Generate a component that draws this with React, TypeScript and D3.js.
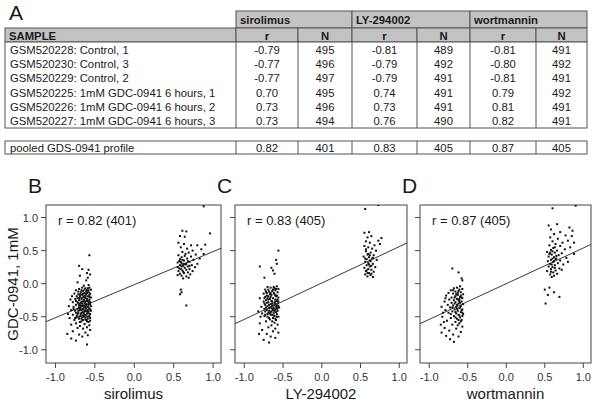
import React from "react";
import * as d3 from "d3";

const samples = [
  "GSM520228: Control, 1",
  "GSM520230: Control, 3",
  "GSM520229: Control, 2",
  "GSM520225: 1mM GDC-0941 6 hours, 1",
  "GSM520226: 1mM GDC-0941 6 hours, 2",
  "GSM520227: 1mM GDC-0941 6 hours, 3",
];
const drugs = ["sirolimus", "LY-294002", "wortmannin"];
const sirolimusR = ["-0.79", "-0.77", "-0.77", "0.70", "0.73", "0.73"];
const sirolimusN = ["495", "496", "497", "495", "496", "494"];
const lyR = ["-0.81", "-0.79", "-0.79", "0.74", "0.73", "0.76"];
const lyN = ["489", "492", "491", "491", "491", "490"];
const wortR = ["-0.81", "-0.80", "-0.81", "0.79", "0.81", "0.82"];
const wortN = ["491", "492", "491", "492", "491", "491"];
const pooledLabel = "pooled GDS-0941 profile";
const pooledR = ["0.82", "0.83", "0.87"];
const pooledN = ["401", "405", "405"];

const xTicks = [-1.0, -0.5, 0.0, 0.5, 1.0];
const yTicks = [1.0, 0.5, 0.0, -0.5, -1.0];
const slopes = [0.5, 0.55, 0.54];
const intercepts = [-0.015, 0.01, 0.0];
const panelLetters = ["B", "C", "D"];

const pointsB = `-0.57 0.43,-0.70 0.27,-0.66 0.22,-0.58 0.21,-0.60 0.16,-0.56 0.14,-0.69 0.12,-0.59 0.09,-0.61 0.05,-0.72 0.02,-0.64 -0.03,-0.58 -0.02,-0.66 -0.06,-0.62 -0.07,-0.57 -0.06,-0.70 -0.08,-0.74 -0.10,-0.60 -0.10,-0.55 -0.09,-0.65 -0.11,-0.68 -0.13,-0.63 -0.14,-0.58 -0.13,-0.76 -0.15,-0.71 -0.16,-0.61 -0.16,-0.56 -0.15,-0.66 -0.17,-0.79 -0.19,-0.73 -0.19,-0.69 -0.20,-0.64 -0.20,-0.59 -0.19,-0.55 -0.21,-0.62 -0.22,-0.67 -0.23,-0.75 -0.23,-0.81 -0.24,-0.70 -0.25,-0.57 -0.24,-0.60 -0.26,-0.65 -0.27,-0.72 -0.28,-0.78 -0.28,-0.68 -0.29,-0.58 -0.29,-0.63 -0.30,-0.56 -0.31,-0.74 -0.32,-0.70 -0.33,-0.66 -0.33,-0.61 -0.33,-0.83 -0.34,-0.77 -0.35,-0.59 -0.35,-0.64 -0.36,-0.69 -0.37,-0.72 -0.38,-0.57 -0.38,-0.62 -0.39,-0.80 -0.40,-0.67 -0.40,-0.75 -0.41,-0.60 -0.42,-0.55 -0.41,-0.65 -0.43,-0.71 -0.44,-0.58 -0.45,-0.68 -0.46,-0.84 -0.46,-0.78 -0.47,-0.63 -0.47,-0.73 -0.49,-0.59 -0.50,-0.66 -0.51,-0.82 -0.52,-0.56 -0.52,-0.70 -0.53,-0.62 -0.54,-0.76 -0.55,-0.67 -0.57,-0.58 -0.58,-0.74 -0.60,-0.63 -0.61,-0.80 -0.62,-0.57 -0.63,-0.69 -0.64,-0.60 -0.66,-0.72 -0.67,-0.65 -0.68,-0.56 -0.70,-0.78 -0.72,-0.62 -0.74,-0.85 -0.76,-0.70 -0.77,-0.59 -0.78,-0.80 -0.83,-0.74 -0.86,-0.66 -0.80,-0.60 -0.92,-0.61 -0.12,-0.64 -0.24,-0.57 -0.27,-0.69 -0.31,-0.62 -0.35,-0.66 -0.38,-0.59 -0.40,-0.71 -0.41,-0.64 -0.45,-0.56 -0.46,-0.61 -0.48,-0.68 -0.49,-0.73 -0.51,-0.65 -0.55,-0.60 -0.57,-0.58 -0.10,-0.63 -0.18,-0.68 -0.16,-0.72 -0.22,-0.60 -0.23,-0.56 -0.28,-0.67 -0.34,-0.63 -0.42,-0.74 -0.44,-0.59 -0.53,-0.62 -0.28,-0.57 -0.20,-0.66 -0.30,-0.70 -0.36,-0.61 -0.31,-0.58 -0.36,-0.64 -0.50,-0.69 -0.58,-0.77 -0.38,-0.55 -0.34,-0.59 -0.07,-0.63 -0.09,-0.67 -0.10,-0.71 -0.12,-0.60 -0.14,-0.65 -0.15,-0.69 -0.17,-0.57 -0.17,-0.62 -0.19,-0.66 -0.21,-0.70 -0.22,-0.74 -0.26,-0.59 -0.26,-0.63 -0.26,-0.67 -0.27,-0.71 -0.30,-0.58 -0.32,-0.64 -0.33,-0.68 -0.34,-0.61 -0.37,-0.65 -0.39,-0.56 -0.39,-0.69 -0.40,-0.62 -0.41,-0.58 -0.42,-0.67 -0.44,-0.60 -0.45,-0.72 -0.46,-0.65 -0.48,-0.57 -0.49,-0.70 -0.50,-0.62 -0.51,-0.67 -0.53,-0.61 -0.55,-0.75 -0.52,-0.56 -0.56,0.88 1.17,0.61 0.80,0.66 0.79,0.96 0.76,0.58 0.72,0.64 0.71,0.56 0.62,0.63 0.60,0.72 0.58,0.90 0.59,0.80 0.58,0.59 0.55,0.67 0.53,0.85 0.52,0.74 0.50,0.61 0.48,0.69 0.47,0.88 0.45,0.78 0.44,0.56 0.43,0.64 0.42,0.72 0.41,0.60 0.40,0.83 0.38,0.67 0.38,0.58 0.37,0.75 0.36,0.63 0.35,0.70 0.33,0.55 0.32,0.60 0.31,0.80 0.30,0.66 0.30,0.58 0.28,0.73 0.28,0.62 0.27,0.68 0.26,0.55 0.25,0.77 0.25,0.64 0.24,0.59 0.22,0.70 0.22,0.66 0.21,0.61 0.20,0.56 0.19,0.74 0.19,0.68 0.17,0.63 0.16,0.58 0.15,0.71 0.14,0.60 0.12,0.66 0.11,0.55 0.13,0.62 0.08,0.69 0.09,0.59 -0.09,0.60 -0.13,0.58 -0.16,0.66 -0.33,0.57 0.34,0.65 0.45,0.60 0.26,0.62 0.18,0.57 0.23,0.65 0.29,0.59 0.33,0.68 0.34,0.61 0.36,0.63 0.30,0.70 0.27`;

const pointsC = `-0.56 0.50,-0.59 0.36,-0.80 0.26,-0.65 0.24,-0.61 0.15,-0.74 0.09,-0.58 0.30,-0.63 0.20,-0.58 -0.04,-0.62 -0.05,-0.66 -0.06,-0.70 -0.05,-0.56 -0.08,-0.73 -0.09,-0.60 -0.10,-0.64 -0.11,-0.68 -0.12,-0.57 -0.13,-0.71 -0.14,-0.75 -0.15,-0.61 -0.16,-0.65 -0.17,-0.59 -0.19,-0.69 -0.19,-0.73 -0.20,-0.56 -0.21,-0.63 -0.22,-0.67 -0.23,-0.60 -0.24,-0.72 -0.25,-0.58 -0.26,-0.75 -0.27,-0.64 -0.27,-0.69 -0.28,-0.61 -0.29,-0.57 -0.30,-0.66 -0.31,-0.73 -0.32,-0.62 -0.33,-0.70 -0.34,-0.59 -0.35,-0.55 -0.36,-0.67 -0.36,-0.64 -0.38,-0.74 -0.38,-0.60 -0.39,-0.71 -0.40,-0.57 -0.41,-0.65 -0.42,-0.62 -0.44,-0.69 -0.44,-0.58 -0.46,-0.73 -0.47,-0.66 -0.47,-0.61 -0.49,-0.56 -0.50,-0.70 -0.50,-0.63 -0.52,-0.67 -0.54,-0.59 -0.55,-0.72 -0.57,-0.61 -0.59,-0.57 -0.62,-0.65 -0.63,-0.80 -0.60,-0.69 -0.66,-0.60 -0.68,-0.77 -0.70,-0.63 -0.72,-0.56 -0.74,-0.71 -0.76,-0.81 -0.76,-0.66 -0.80,-0.60 -0.82,-0.75 -0.85,-0.68 -0.89,-0.79 -0.50,-0.82 -0.42,-0.78 -0.35,-0.80 -0.22,-0.77 -0.45,-0.58 -0.18,-0.62 -0.14,-0.66 -0.20,-0.70 -0.22,-0.60 -0.31,-0.64 -0.33,-0.68 -0.37,-0.56 -0.34,-0.63 -0.40,-0.59 -0.43,-0.67 -0.45,-0.61 -0.07,-0.69 -0.09,-0.72 -0.12,-0.57 -0.24,-0.74 -0.30,-0.62 -0.48,-0.65 -0.26,-0.71 -0.29,-0.58 -0.38,-0.60 -0.53,-0.64 -0.57,-0.68 -0.41,-0.66 -0.14,-0.73 -0.42,-0.59 -0.08,-0.63 -0.09,-0.67 -0.16,-0.71 -0.18,-0.74 -0.22,-0.60 -0.27,-0.64 -0.30,-0.68 -0.32,-0.72 -0.36,-0.57 -0.37,-0.61 -0.41,-0.66 -0.43,-0.70 -0.46,-0.74 -0.49,-0.58 -0.50,-0.64 -0.47,-0.68 -0.52,-0.62 -0.37,-0.56 -0.27,-0.65 -0.36,-0.60 -0.18,-0.69 -0.24,-0.58 -0.33,0.56 1.13,0.73 1.19,0.55 0.77,0.61 0.78,0.77 0.69,0.73 0.65,0.59 0.70,0.64 0.72,0.75 0.60,0.57 0.64,0.62 0.62,0.68 0.58,0.55 0.57,0.60 0.55,0.65 0.53,0.70 0.50,0.57 0.49,0.63 0.47,0.59 0.44,0.67 0.43,0.54 0.41,0.61 0.40,0.65 0.38,0.58 0.37,0.71 0.36,0.63 0.34,0.56 0.33,0.60 0.31,0.66 0.30,0.58 0.28,0.62 0.26,0.69 0.25,0.55 0.24,0.60 0.22,0.64 0.21,0.57 0.19,0.67 0.18,0.61 0.16,0.56 0.14,0.63 0.13,0.59 0.11,0.66 0.10,0.62 0.35,0.58 0.20,0.64 0.27,0.60 0.45,0.57 0.52,0.66 0.39,0.61 0.29,0.59 0.16,0.64 0.15,0.56 0.38,0.62 0.43`;

const pointsD = `-0.70 0.23,-0.62 0.17,-0.58 0.08,-0.57 0.05,-0.60 -0.04,-0.64 -0.06,-0.68 -0.07,-0.57 -0.08,-0.72 -0.10,-0.62 -0.11,-0.66 -0.12,-0.59 -0.13,-0.75 -0.14,-0.69 -0.15,-0.56 -0.16,-0.63 -0.17,-0.78 -0.18,-0.66 -0.19,-0.60 -0.20,-0.71 -0.21,-0.57 -0.22,-0.64 -0.23,-0.74 -0.24,-0.68 -0.25,-0.61 -0.26,-0.58 -0.27,-0.80 -0.27,-0.66 -0.28,-0.71 -0.29,-0.62 -0.30,-0.56 -0.31,-0.76 -0.32,-0.69 -0.33,-0.59 -0.34,-0.65 -0.35,-0.73 -0.36,-0.61 -0.37,-0.57 -0.39,-0.67 -0.39,-0.79 -0.40,-0.63 -0.41,-0.70 -0.42,-0.59 -0.43,-0.75 -0.44,-0.65 -0.45,-0.56 -0.46,-0.62 -0.47,-0.68 -0.49,-0.83 -0.50,-0.60 -0.51,-0.72 -0.52,-0.64 -0.53,-0.58 -0.55,-0.77 -0.56,-0.66 -0.58,-0.61 -0.60,-0.85 -0.62,-0.70 -0.62,-0.57 -0.65,-0.80 -0.67,-0.65 -0.68,-0.74 -0.71,-0.59 -0.73,-0.84 -0.74,-0.69 -0.77,-0.78 -0.79,-0.62 -0.80,-0.73 -0.84,-0.68 -0.88,-0.81 -0.58,-0.82 -0.44,-0.79 -0.22,-0.84 -0.35,-0.63 -0.14,-0.67 -0.21,-0.60 -0.29,-0.64 -0.32,-0.70 -0.36,-0.58 -0.40,-0.66 -0.43,-0.61 -0.23,-0.72 -0.46,-0.59 -0.18,-0.69 -0.10,-0.62 -0.55,-0.57 -0.49,-0.61 -0.09,-0.65 -0.16,-0.58 -0.21,-0.62 -0.25,-0.67 -0.30,-0.60 -0.36,-0.64 -0.38,-0.57 -0.44,-0.61 -0.48,-0.66 -0.51,-0.59 -0.57,-0.63 -0.63,0.60 1.14,0.90 1.18,0.66 0.90,0.55 0.88,0.82 0.85,0.86 0.80,0.70 0.78,0.58 0.82,0.62 0.75,0.77 0.73,0.85 0.72,0.57 0.70,0.67 0.68,0.80 0.65,0.88 0.62,0.60 0.64,0.73 0.62,0.64 0.60,0.56 0.58,0.70 0.57,0.83 0.55,0.61 0.54,0.76 0.52,0.58 0.51,0.66 0.50,0.53 0.48,0.63 0.47,0.72 0.46,0.88 0.45,0.59 0.44,0.68 0.43,0.55 0.41,0.62 0.40,0.78 0.39,0.65 0.38,0.58 0.36,0.70 0.35,0.54 0.34,0.61 0.33,0.67 0.31,0.57 0.30,0.74 0.29,0.63 0.28,0.55 0.26,0.60 0.25,0.69 0.23,0.58 0.22,0.64 0.20,0.53 0.19,0.61 0.17,0.66 0.15,0.57 0.14,0.62 0.12,0.59 0.10,0.72 0.21,0.80 0.33,0.56 -0.06,0.50 -0.09,0.62 -0.13,0.54 -0.17,0.51 -0.30,0.69 -0.20,0.60 0.38,0.65 0.42,0.57 0.47,0.63 0.55,0.59 0.29,0.62 0.34,0.56 0.45,0.60 0.49,0.64 0.37,0.58 0.18,0.63 0.24`;

const parse = (s: string) =>
  s.split(",").map((p) => {
    const [a, b] = p.trim().split(/\s+/).map(Number);
    return [a, b] as [number, number];
  });
const panelPoints = [parse(pointsB), parse(pointsC), parse(pointsD)];

const FONT = "'Liberation Sans', Arial, Helvetica, sans-serif";
const GRAY = "#c3c3c3";
const LINE = "#555";
const TXT = "#1a1a1a";

function Table() {
  const x0 = 5;
  const colX = [236, 298, 352, 417, 470, 536, 587];
  const r0 = 11, r1 = 28, r2 = 42, r3 = 128;
  const rowH = (r3 - r2) / 6;
  const cols = [sirolimusR, sirolimusN, lyR, lyN, wortR, wortN];
  const pTop = 141, pBot = 154;
  const pooledVals = [pooledR[0], pooledN[0], pooledR[1], pooledN[1], pooledR[2], pooledN[2]];
  return (
    <g fontFamily={FONT} fontSize={11.3} fill={TXT}>
      <text x={9} y={20} fontSize={21}>A</text>
      {drugs.map((d, i) => (
        <g key={d}>
          <rect x={colX[i * 2]} y={r0} width={colX[i * 2 + 2] - colX[i * 2]} height={r1 - r0} fill={GRAY} stroke={LINE} strokeWidth={1} />
          <text x={colX[i * 2] + 4} y={r0 + 12.5} fontWeight="bold">{d}</text>
        </g>
      ))}
      <rect x={x0} y={r1} width={colX[0] - x0} height={r2 - r1} fill={GRAY} stroke={LINE} />
      <text x={x0 + 4} y={r1 + 11.5} fontWeight="bold">SAMPLE</text>
      {cols.map((_, j) => (
        <g key={"h" + j}>
          <rect x={colX[j]} y={r1} width={colX[j + 1] - colX[j]} height={r2 - r1} fill={GRAY} stroke={LINE} />
          <text x={(colX[j] + colX[j + 1]) / 2} y={r1 + 11.5} textAnchor="middle" fontWeight="bold">{j % 2 === 0 ? "r" : "N"}</text>
        </g>
      ))}
      <rect x={x0} y={r2} width={colX[6] - x0} height={r3 - r2} fill="white" stroke={LINE} />
      {colX.slice(0, 6).map((cx) => (
        <line key={"v" + cx} x1={cx} x2={cx} y1={r2} y2={r3} stroke={LINE} />
      ))}
      {samples.map((s, i) => (
        <g key={s}>
          <text x={x0 + 5} y={r2 + rowH * i + 11.5}>{s}</text>
          {cols.map((c, j) => (
            <text key={j} x={(colX[j] + colX[j + 1]) / 2} y={r2 + rowH * i + 11.5} textAnchor="middle">{c[i]}</text>
          ))}
        </g>
      ))}
      <rect x={x0} y={pTop} width={colX[6] - x0} height={pBot - pTop} fill="white" stroke={LINE} />
      {colX.slice(0, 6).map((cx) => (
        <line key={"pv" + cx} x1={cx} x2={cx} y1={pTop} y2={pBot} stroke={LINE} />
      ))}
      <text x={x0 + 5} y={pTop + 11}>{pooledLabel}</text>
      {pooledVals.map((v, j) => (
        <text key={"pv" + j} x={(colX[j] + colX[j + 1]) / 2} y={pTop + 11} textAnchor="middle">{v}</text>
      ))}
    </g>
  );
}

function Panel({ idx, left, right }: { idx: number; left: number; right: number }) {
  const top = 205, bottom = 363;
  const x = d3.scaleLinear().domain([-1.12, 1.1]).range([left, right]);
  const y = d3.scaleLinear().domain([-1.2, 1.19]).range([bottom, top]);
  const m = slopes[idx], b = intercepts[idx];
  const xd = x.domain();
  const line = d3.line<[number, number]>().x((d) => x(d[0])).y((d) => y(d[1]));
  const lp = line([
    [xd[0], m * xd[0] + b],
    [xd[1], m * xd[1] + b],
  ]) as string;
  const clipId = "clip" + idx;
  return (
    <g fontFamily={FONT}>
      <defs>
        <clipPath id={clipId}>
          <rect x={left} y={top} width={right - left} height={bottom - top} />
        </clipPath>
      </defs>
      <text x={left - 18} y={193} fontSize={21} fill={TXT}>{panelLetters[idx]}</text>
      <rect x={left} y={top} width={right - left} height={bottom - top} fill="white" stroke="#444" strokeWidth={1} />
      <g clipPath={`url(#${clipId})`}>
        <path d={lp} stroke="#222" strokeWidth={0.9} fill="none" />
        {panelPoints[idx].map((p, i) => (
          <rect key={i} x={x(p[0]) - 1} y={y(p[1]) - 1} width={2} height={2} fill="#111" />
        ))}
      </g>
      {xTicks.map((t) => (
        <g key={"x" + t}>
          <line x1={x(t)} x2={x(t)} y1={bottom} y2={bottom + 5} stroke="#444" />
          <text x={x(t)} y={381} fontSize={11} textAnchor="middle" fill="#333">{d3.format(".1f")(t).replace("−", "-")}</text>
        </g>
      ))}
      {yTicks.map((t) => (
        <g key={"y" + t}>
          <line x1={left - 5} x2={left} y1={y(t)} y2={y(t)} stroke="#444" />
          {idx === 0 && (
            <text x={left - 8} y={y(t) + 4} fontSize={11} textAnchor="end" fill="#333">{d3.format(".1f")(t).replace("−", "-")}</text>
          )}
        </g>
      ))}
      <text x={left + 12} y={225} fontSize={13} fill={TXT}>{`r = ${pooledR[idx]} (${pooledN[idx]})`}</text>
      <text x={(left + right) / 2} y={399} fontSize={15} textAnchor="middle" fill={TXT}>{drugs[idx]}</text>
      {idx === 0 && (
        <text transform={`translate(18, ${(top + bottom) / 2}) rotate(-90)`} fontSize={15} textAnchor="middle" fill={TXT}>GDC-0941, 1mM</text>
      )}
    </g>
  );
}

export default function App() {
  return (
    <svg width={600} height={420} style={{ position: "absolute", left: 0, top: 0, background: "white" }}>
      <rect width={600} height={420} fill="white" />
      <Table />
      <Panel idx={0} left={46} right={221} />
      <Panel idx={1} left={235} right={407} />
      <Panel idx={2} left={420} right={591} />
    </svg>
  );
}
